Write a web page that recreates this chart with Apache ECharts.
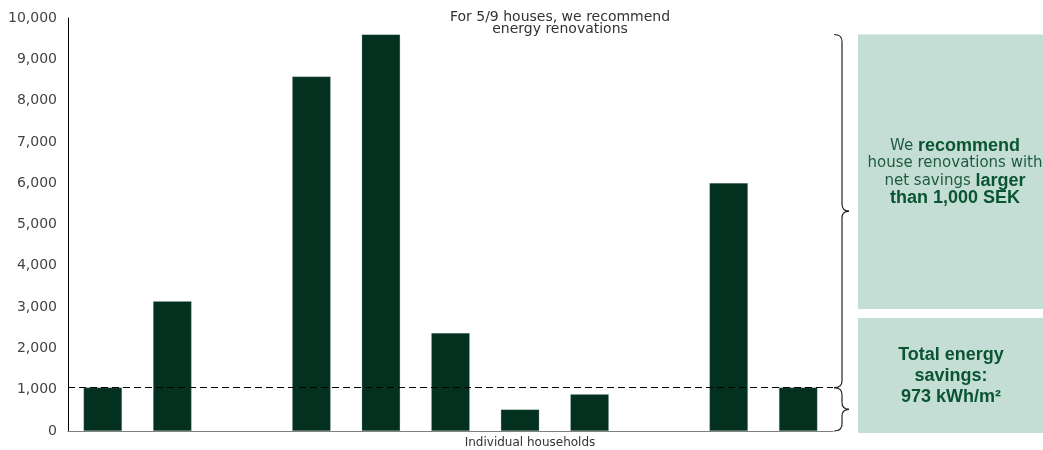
<!DOCTYPE html>
<html>
<head>
<meta charset="utf-8">
<script src="https://cdn.jsdelivr.net/npm/echarts@6/dist/echarts.min.js"></script>
<style>
html,body{margin:0;padding:0;background:#fff;}
#main{width:1043px;height:450px;}
</style>
</head>
<body>
<div id="main"></div>
<script>
// ---- data ----
const categories = ['1','2','3','4','5','6','7','8','9','10','11'];
const savings = [1050, 3140, null, 8580, 9600, 2370, 520, 890, null, 6000, 1050];
const threshold = 1050;
const yMin = 0, yMax = 10000, yStep = 1000;
const titleText = 'For 5/9 houses, we recommend\nenergy renovations';
const xName = 'Individual households';
const boxTopText = '{r|We }{b|recommend}\n{r|house renovations with}\n{r|net savings }{b|larger}\n{b|than 1,000 SEK}';
const boxBottomText = '{b|Total energy}\n{b|savings:}\n{b|973 kWh/m²}';

const chart = echarts.init(document.getElementById('main'), null, {renderer:'canvas'});
const BAR = '#03301f';
const BOX = '#c5ded5';

chart.setOption({
  animation: false,
  grid: {left: 68, right: 210, top: 18, bottom: 19, containLabel: false},
  xAxis: {
    type: 'category',
    data: categories,
    axisLine: {lineStyle: {color: '#7f7f7f', width: 1.2}},
    axisTick: {show: false},
    axisLabel: {show: false},
    splitLine: {show: false}
  },
  yAxis: {
    type: 'value',
    min: yMin, max: yMax, interval: yStep,
    axisLine: {show: true, lineStyle: {color: '#000', width: 1}},
    axisTick: {show: false},
    splitLine: {show: false},
    axisLabel: {
      color: '#444', fontFamily: 'DejaVu Sans', fontSize: 14, margin: 11,
      formatter: v => v.toLocaleString('en-US')
    }
  },
  series: [{
    type: 'bar',
    data: savings,
    barWidth: '55%',
    itemStyle: {color: BAR, borderColor: '#8fa99c', borderWidth: 0.3},
    markLine: {
      symbol: ['none','none'],
      silent: true,
      label: {show: false},
      lineStyle: {color: '#000', type: [7,4], width: 1},
      data: [{yAxis: threshold}]
    }
  }]
});

const braceStyle = {fill: null, stroke: '#222', lineWidth: 1.2};
function brace(x0, y1, y2) {
  const x1 = x0 + 8, x2 = x0 + 15, ym = (y1 + y2) / 2;
  const r = Math.min(7, (y2 - y1) / 5);
  const bz = (a, b, c, d, e, f) => ({type: 'bezierCurve', shape: {x1: a, y1: b, x2: c, y2: d, cpx1: e, cpy1: f}, style: braceStyle});
  const ln = (a, b, c, d) => ({type: 'line', shape: {x1: a, y1: b, x2: c, y2: d}, style: braceStyle});
  return [
    bz(x0, y1, x1, y1 + r, x1, y1),
    ln(x1, y1 + r, x1, ym - r),
    bz(x1, ym - r, x2, ym, x1, ym),
    bz(x2, ym, x1, ym + r, x1, ym),
    ln(x1, ym + r, x1, y2 - r),
    bz(x1, y2 - r, x0, y2, x1, y2)
  ];
}

const yTh = chart.convertToPixel({yAxisIndex: 0}, threshold);
const yTop = chart.convertToPixel({yAxisIndex: 0}, Math.max(...savings.filter(v => v != null)));
const yZero = chart.convertToPixel({yAxisIndex: 0}, 0);
const bx = 834;

chart.setOption({
  graphic: [
    {type: 'text', x: 560, y: 23, style: {
      text: titleText, align: 'center', verticalAlign: 'middle',
      fontFamily: 'DejaVu Sans', fontSize: 14, lineHeight: 12, fill: '#333'
    }},
    {type: 'text', x: 530, y: 443, style: {
      text: xName, align: 'center', verticalAlign: 'middle',
      fontFamily: 'DejaVu Sans', fontSize: 12, fill: '#333'
    }},
    ...brace(bx, yTop, yTh),
    ...brace(bx, yTh, yZero),
    {type: 'rect', shape: {x: 858, y: yTop, width: 185, height: 309 - yTop}, style: {fill: BOX}},
    {type: 'rect', shape: {x: 858, y: 318, width: 185, height: 115}, style: {fill: BOX}},
    {type: 'text', x: 955, y: 172, style: {
      text: boxTopText, align: 'center', verticalAlign: 'middle',
      rich: {
        r: {fontFamily: 'DejaVu Sans', fontSize: 15, lineHeight: 17.5, fill: '#1f5b41'},
        b: {fontFamily: 'Liberation Sans', fontWeight: 'bold', fontSize: 18, lineHeight: 17.5, fill: '#0a5433'}
      }
    }},
    {type: 'text', x: 951, y: 376, style: {
      text: boxBottomText, align: 'center', verticalAlign: 'middle',
      rich: {
        b: {fontFamily: 'Liberation Sans', fontWeight: 'bold', fontSize: 18, lineHeight: 21, fill: '#0a5433'}
      }
    }}
  ]
});
</script>
</body>
</html>
